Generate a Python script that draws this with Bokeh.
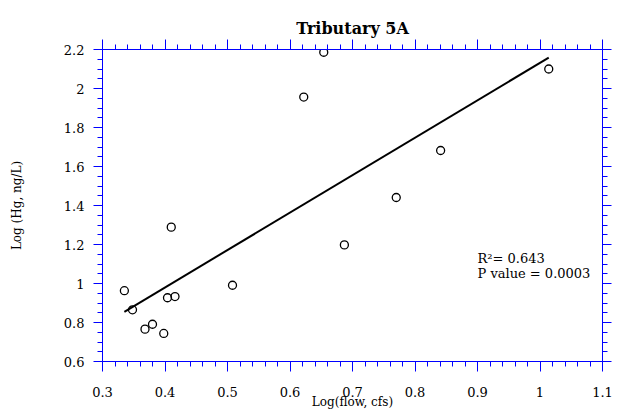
import numpy as np
from bokeh.plotting import figure
from bokeh.models import LinearAxis, Range1d, FixedTicker, CustomJSTickFormatter, Label
from bokeh.embed import file_html
from bokeh.resources import INLINE

# Tributary 5A: log10 of discharge (cfs) against log10 of total mercury (ng/L)
log_flow = [0.335, 0.348, 0.368, 0.380, 0.398, 0.404, 0.410, 0.416,
            0.508, 0.622, 0.654, 0.687, 0.770, 0.841, 1.014]
log_hg = [0.963, 0.865, 0.766, 0.791, 0.744, 0.927, 1.289, 0.933,
          0.991, 1.956, 2.186, 1.198, 1.441, 1.682, 2.100]

# regression statistics printed on the chart
r_squared = 0.643
p_value = 0.0003

x_ticks = [0.3, 0.4, 0.5, 0.6, 0.7, 0.8, 0.9, 1.0, 1.1]
x_tick_labels = ["0.3", "0.4", "0.5", "0.6", "0.7", "0.8", "0.9", "1", "1.1"]
y_ticks = [0.6, 0.8, 1.0, 1.2, 1.4, 1.6, 1.8, 2.0, 2.2]
y_tick_labels = ["0.6", "0.8", "1", "1.2", "1.4", "1.6", "1.8", "2", "2.2"]

FONT = "DejaVu Serif"
BLUE = "#0000ff"

x_minor = [round(v, 2) for v in np.arange(0.3, 1.1 + 1e-9, 0.02)]
y_minor = [round(v, 2) for v in np.arange(0.6, 2.2 + 1e-9, 0.05)]

p = figure(width=624, height=411, output_backend="svg", toolbar_location=None,
           x_range=Range1d(0.3, 1.1), y_range=Range1d(0.6, 2.2),
           x_axis_location=None, y_axis_location=None,
           min_border_left=102, min_border_right=22,
           min_border_top=49, min_border_bottom=50)
p.outline_line_color = None
p.xgrid.visible = False
p.ygrid.visible = False
p.background_fill_color = "white"
p.border_fill_color = "white"

p.title.text = "Tributary 5A"
p.title.text_font = FONT
p.title.text_font_style = "bold"
p.title.text_font_size = "16px"
p.title.align = "center"
p.title.text_color = "black"
p.title.standoff = 3


def formatter(values, labels):
    return CustomJSTickFormatter(args=dict(values=values, labels=labels), code="""
        for (let i = 0; i < values.length; i++) {
            if (Math.abs(values[i] - tick) < 1e-6) return labels[i];
        }
        return "";
    """)


def make_axis(ticks, minor, labels=None, major_out=10, minor_out=5):
    ax = LinearAxis(ticker=FixedTicker(ticks=ticks, minor_ticks=minor))
    ax.axis_line_color = BLUE
    ax.axis_line_width = 1
    ax.major_tick_line_color = BLUE
    ax.minor_tick_line_color = BLUE
    ax.major_tick_in = 0
    ax.major_tick_out = major_out
    ax.minor_tick_in = 0
    ax.minor_tick_out = minor_out
    ax.axis_label_text_font = FONT
    ax.axis_label_text_font_style = "normal"
    ax.axis_label_text_font_size = "12px"
    ax.axis_label_text_color = "black"
    if labels is None:
        ax.major_label_text_font_size = "0px"
        ax.major_label_standoff = 0
        ax.formatter = formatter(ticks, [""] * len(ticks))
    else:
        ax.formatter = formatter(ticks, labels)
        ax.major_label_text_font = FONT
        ax.major_label_text_font_size = "13px"
        ax.major_label_text_color = "black"
    return ax


bottom = make_axis(x_ticks, x_minor, x_tick_labels)
bottom.major_label_standoff = 15
bottom.axis_label = "Log(flow, cfs)"
bottom.axis_label_standoff = -5
p.add_layout(bottom, "below")

top = make_axis(x_ticks, x_minor)
p.add_layout(top, "above")

left = make_axis(y_ticks, y_minor, y_tick_labels, major_out=9)
left.major_label_standoff = 9
left.axis_label = "Log (Hg, ng/L)"
left.axis_label_standoff = 37
p.add_layout(left, "left")

right = make_axis(y_ticks, y_minor, major_out=9)
p.add_layout(right, "right")

# least-squares line over the observed flow range
fx = np.array(log_flow)
fy = np.array(log_hg)
slope, intercept = np.polyfit(fx, fy, 1)
line_x = [fx.min(), fx.max()]
line_y = [intercept + slope * v for v in line_x]
p.line(line_x, line_y, line_color="black", line_width=2)

p.scatter(log_flow, log_hg, marker="circle", size=8, fill_color=None,
          line_color="black", line_width=1.3)

stat_style = dict(text_font=FONT, text_font_size="13px", text_color="black",
                  text_baseline="middle", text_align="left")
p.add_layout(Label(x=0.9, y=1.128, text=f"R\u00b2= {r_squared:.3f}", **stat_style))
p.add_layout(Label(x=0.9, y=1.051, text=f"P value = {p_value:.4f}", **stat_style))

open("out.html", "w").write(file_html(p, INLINE))
